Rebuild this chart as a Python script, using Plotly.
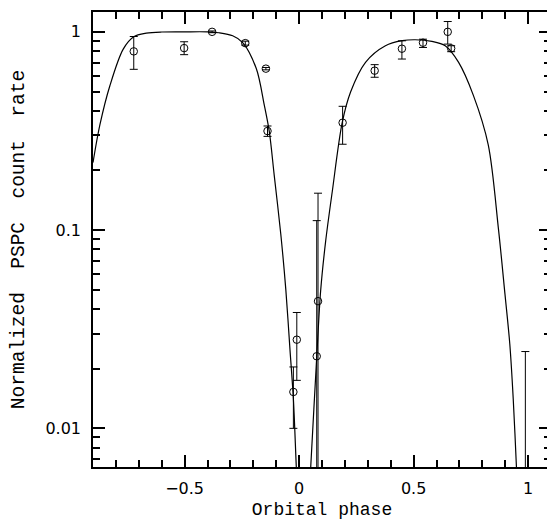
import plotly.graph_objects as go

# Observed data points (orbital phase, normalized rate, upper/lower error limits)
obs_phase = [-0.722, -0.502, -0.380, -0.235, -0.145, -0.138, -0.010, -0.025,
             0.077, 0.0826, 0.19, 0.330, 0.449, 0.541, 0.649, 0.664, 0.988]
obs_rate = [0.797, 0.828, 1.0, 0.877, 0.652, 0.316, 0.028, 0.01526,
            0.0231, 0.0438, 0.348, 0.637, 0.822, 0.881, 1.0, 0.825, 0.003]
obs_upper = [0.947, 0.891, 1.01, 0.897, 0.661, 0.335, 0.0384, 0.0204,
             0.1116, 0.1535, 0.421, 0.683, 0.901, 0.918, 1.127, 0.851, 0.0244]
obs_lower = [0.647, 0.767, 0.99, 0.857, 0.643, 0.297, 0.01746, 0.01,
             0.0, 0.0, 0.271, 0.59, 0.729, 0.834, 0.867, 0.794, 0.0]

# Model light curve
model_phase = [-0.90, -0.87, -0.826, -0.768, -0.722, -0.667, -0.60, -0.50, -0.40,
               -0.35, -0.29, -0.2465, -0.187, -0.152, -0.130, -0.109, -0.080,
               -0.058, -0.040, -0.025, -0.012, 0.0, 0.02, 0.04, 0.051, 0.077,
               0.094, 0.116, 0.145, 0.188, 0.2248, 0.29, 0.377, 0.45, 0.507,
               0.58, 0.638, 0.696, 0.761, 0.826, 0.870, 0.899, 0.920, 0.935,
               0.949, 0.96]
model_rate = [0.219, 0.339, 0.536, 0.818, 0.944, 0.984, 0.998, 1.0, 1.0,
              0.989, 0.955, 0.883, 0.653, 0.427, 0.313, 0.1905, 0.0955,
              0.0501, 0.0251, 0.0141, 0.0063, 0.00316, 0.001, 0.0038, 0.00646,
              0.0229, 0.0493, 0.0879, 0.157, 0.347, 0.497, 0.702, 0.851, 0.902,
              0.912, 0.895, 0.851, 0.703, 0.478, 0.269, 0.1026, 0.0475, 0.0267,
              0.0141, 0.0064, 0.00316]

x_ticks = [-0.5, 0, 0.5, 1]
x_ticktext = ["\u22120.5", "0", "0.5", "1"]
y_ticks = [0.01, 0.1, 1]
y_ticktext = ["0.01", "0.1", "1"]
y_minor = [0.007, 0.008, 0.009,
           0.02, 0.03, 0.04, 0.05, 0.06, 0.07, 0.08, 0.09,
           0.2, 0.3, 0.4, 0.5, 0.6, 0.7, 0.8, 0.9]

x_title = "Orbital phase"
y_title = "Normalized\u00a0\u00a0PSPC\u00a0\u00a0count\u00a0\u00a0rate\u00a0\u00a0\u00a0"

err_plus = [u - r for u, r in zip(obs_upper, obs_rate)]
err_minus = [r - l for r, l in zip(obs_rate, obs_lower)]

fig = go.Figure()
fig.add_trace(go.Scatter(
    x=model_phase, y=model_rate, mode="lines",
    line=dict(color="black", width=1.2, shape="spline", smoothing=0.9),
    showlegend=False, hoverinfo="skip"))
fig.add_trace(go.Scatter(
    x=obs_phase, y=obs_rate, mode="markers",
    marker=dict(symbol="circle-open", size=7.5, color="black", line=dict(width=1, color="black")),
    error_y=dict(type="data", array=err_plus, arrayminus=err_minus, symmetric=False,
                 color="black", thickness=1, width=4),
    showlegend=False))

axis_font = dict(family="DejaVu Sans", size=16, color="black")

fig.update_layout(
    width=547, height=512,
    margin=dict(l=85, r=2, t=2, b=53),
    paper_bgcolor="white", plot_bgcolor="white",
    xaxis=dict(
        range=[-0.9, 1.1], showgrid=False, zeroline=False,
        showline=True, linecolor="black", linewidth=1.5, mirror="allticks",
        ticks="inside", ticklen=12, tickwidth=1.5, tickcolor="black",
        tickvals=x_ticks, ticktext=x_ticktext, tickfont=axis_font,
        ticklabelstandoff=6,
        minor=dict(ticks="inside", ticklen=7, tickwidth=1.5, tickcolor="black",
                   dtick=0.1, tick0=0, showgrid=False),
        title=dict(text=x_title, font=dict(family="Liberation Mono", size=18, color="black"),
                   standoff=6),
    ),
    yaxis=dict(
        type="log", range=[-2.195, 0.1], showgrid=False, zeroline=False,
        showline=True, linecolor="black", linewidth=1.5, mirror="allticks",
        ticks="inside", ticklen=12, tickwidth=1.5, tickcolor="black",
        tickvals=y_ticks, ticktext=y_ticktext, tickfont=axis_font,
        ticklabelstandoff=7,
        minor=dict(ticks="inside", ticklen=7, tickwidth=1.5, tickcolor="black",
                   tickvals=y_minor, showgrid=False),
        title=dict(text=y_title, font=dict(family="Liberation Mono", size=19.5, color="black"),
                   standoff=18),
    ),
)

fig.write_html("out.html")
